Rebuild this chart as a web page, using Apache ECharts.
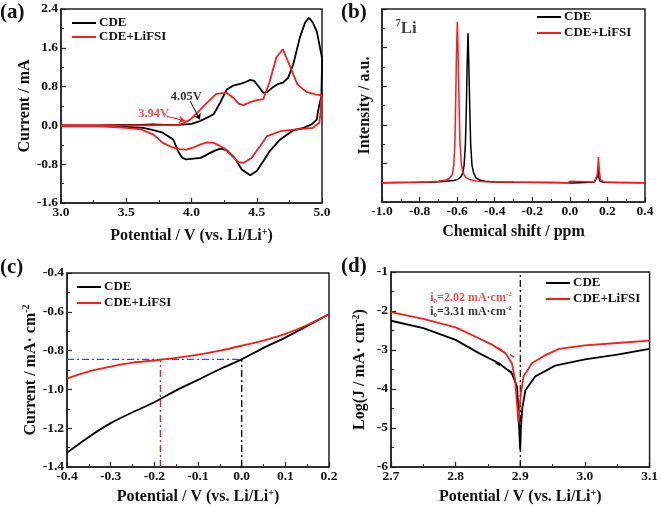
<!DOCTYPE html>
<html><head><meta charset="utf-8">
<script src="https://cdn.jsdelivr.net/npm/echarts@6/dist/echarts.min.js"></script>
<style>html,body{margin:0;padding:0;background:#fff}#c{width:661px;height:506px}</style>
</head><body><div id="c"></div>
<script>
// ---------- DATA ----------
// (a) cyclic voltammetry [V, mA]
const cvCdeAnodic = [[3.0,0.0],[3.3,0.0],[3.45,0.01],[3.6,0.01],[3.7,0.02],[3.8,0.01],[3.9,0.01],[4.0,0.03],[4.065,0.09],[4.12,0.16],[4.17,0.23],[4.22,0.47],[4.27,0.74],[4.32,0.82],[4.38,0.86],[4.42,0.9],[4.45,0.94],[4.48,0.92],[4.52,0.78],[4.55,0.67],[4.58,0.69],[4.62,0.78],[4.66,0.85],[4.7,0.88],[4.74,0.98],[4.78,1.26],[4.83,1.81],[4.87,2.12],[4.9,2.22],[4.93,2.12],[4.96,1.94],[4.99,1.53],[5.0,1.4]];
const cvCdeCathodic = [[5.0,1.2],[4.995,0.6],[4.98,0.42],[4.97,0.3],[4.96,0.12],[4.92,0.02],[4.86,-0.05],[4.78,-0.1],[4.68,-0.29],[4.6,-0.53],[4.55,-0.74],[4.5,-0.94],[4.45,-1.03],[4.385,-0.91],[4.33,-0.67],[4.27,-0.51],[4.22,-0.48],[4.17,-0.53],[4.07,-0.67],[3.96,-0.7],[3.93,-0.67],[3.9,-0.55],[3.86,-0.29],[3.78,-0.15],[3.7,-0.09],[3.63,-0.05],[3.5,-0.03],[3.3,-0.01],[3.0,-0.01]];
const cvLifsiAnodic = [[3.0,0.0],[3.4,0.0],[3.7,0.0],[3.9,0.01],[3.94,0.05],[3.99,0.12],[4.07,0.33],[4.12,0.47],[4.19,0.65],[4.27,0.67],[4.32,0.57],[4.36,0.45],[4.4,0.42],[4.45,0.48],[4.5,0.52],[4.55,0.54],[4.6,0.91],[4.65,1.4],[4.7,1.57],[4.755,1.22],[4.81,0.85],[4.88,0.69],[4.95,0.64],[4.995,0.62]];
const cvLifsiCathodic = [[4.998,0.6],[4.99,0.3],[4.98,0.06],[4.93,-0.05],[4.81,-0.08],[4.68,-0.12],[4.58,-0.22],[4.525,-0.43],[4.46,-0.67],[4.4,-0.77],[4.36,-0.76],[4.31,-0.63],[4.245,-0.46],[4.17,-0.36],[4.12,-0.35],[4.07,-0.39],[4.01,-0.46],[3.96,-0.5],[3.91,-0.49],[3.86,-0.46],[3.78,-0.36],[3.71,-0.19],[3.61,-0.08],[3.5,-0.05],[3.3,-0.02],[3.0,-0.02]];
const cvOnsetLabels = ['4.05V', '3.94V'];

// (b) 7Li NMR [ppm, intensity]
const nmrCde = [[-1.0,0],[-0.8,0.002],[-0.72,0.004],[-0.66,0.007],[-0.62,0.011],[-0.6,0.016],[-0.58,0.03],[-0.57,0.05],[-0.563,0.09],[-0.556,0.2],[-0.551,0.39],[-0.547,0.6],[-0.542,0.774],[-0.538,0.62],[-0.533,0.39],[-0.528,0.2],[-0.521,0.09],[-0.512,0.05],[-0.5,0.025],[-0.48,0.014],[-0.45,0.008],[-0.4,0.004],[-0.3,0.002],[-0.1,0.001],[-0.01,0],[0.0,0.004],[0.01,-0.002],[0.05,0],[0.13,0.003],[0.14,0.01],[0.146,0.03],[0.15,0.071],[0.154,0.03],[0.16,0.008],[0.18,0.002],[0.4,0]];
const nmrLifsi = [[-1.0,0],[-0.85,0.002],[-0.75,0.004],[-0.7,0.007],[-0.66,0.014],[-0.64,0.022],[-0.625,0.045],[-0.618,0.09],[-0.612,0.2],[-0.608,0.4],[-0.604,0.65],[-0.599,0.834],[-0.595,0.68],[-0.59,0.42],[-0.585,0.21],[-0.578,0.1],[-0.57,0.055],[-0.555,0.028],[-0.53,0.015],[-0.5,0.009],[-0.45,0.005],[-0.35,0.003],[-0.1,0.001],[-0.01,0],[-0.003,-0.006],[0.003,0.008],[0.01,0],[0.13,0.004],[0.14,0.012],[0.146,0.04],[0.152,0.133],[0.157,0.06],[0.163,0.015],[0.18,0.004],[0.25,0.001],[0.4,0]];

// (c) LSV [V, mA cm-2]
const lsvPotential = [-0.4,-0.35,-0.3,-0.25,-0.2,-0.15,-0.1,-0.05,0.0,0.05,0.1,0.15,0.2];
const lsvCde   = [-1.326,-1.245,-1.174,-1.118,-1.066,-1.005,-0.951,-0.896,-0.845,-0.786,-0.733,-0.673,-0.613];
const lsvLifsi = [-0.944,-0.907,-0.882,-0.862,-0.851,-0.838,-0.821,-0.8,-0.775,-0.748,-0.714,-0.668,-0.613];
const lsvRefCurrent = -0.845;
const lsvRefPotentials = [-0.186, 0.0];

// (d) Tafel [V, log J]
const tafelCde = [[2.7,-2.25],[2.75,-2.44],[2.8,-2.74],[2.836,-3.08],[2.867,-3.34],[2.887,-3.6],[2.895,-3.94],[2.897,-4.5],[2.899,-5.3],[2.9,-5.55],[2.901,-5.0],[2.903,-4.5],[2.908,-4.03],[2.923,-3.68],[2.954,-3.4],[3.0,-3.24],[3.05,-3.12],[3.1,-2.97]];
const tafelLifsi = [[2.7,-2.03],[2.75,-2.2],[2.8,-2.42],[2.836,-2.7],[2.857,-2.87],[2.877,-3.08],[2.887,-3.34],[2.892,-3.77],[2.895,-4.4],[2.897,-4.85],[2.899,-4.5],[2.901,-4.1],[2.905,-3.68],[2.918,-3.34],[2.939,-3.13],[2.96,-2.97],[3.0,-2.88],[3.05,-2.82],[3.1,-2.76]];
const tafelFitCde = [[2.862,-3.33],[2.897,-3.66]];
const tafelFitLifsi = [[2.865,-2.94],[2.898,-3.25]];
const tafelEcorr = 2.9;
const exchangeCurrents = ['2.02', '3.31'];

// ---------- STYLE ----------
const FF = '"Liberation Serif","Times New Roman",serif';
const RED = '#f51d1d', BLACK = '#000000', BLUE = '#2156f5';
const NAMES = ['CDE', 'CDE+LiFSI'];
const rich = (size, color) => ({
  sup: {fontFamily: FF, fontWeight: 'bold', fontSize: Math.round(size*0.6), color: color, verticalAlign: 'top', lineHeight: size+2},
  sub: {fontFamily: FF, fontWeight: 'bold', fontSize: Math.round(size*0.6), color: color, verticalAlign: 'bottom', lineHeight: size+2},
  n: {fontFamily: FF, fontWeight: 'bold', fontSize: size, color: color, lineHeight: size+2}
});
const nameStyle = {fontFamily: FF, fontWeight: 'bold', fontSize: 16, color: '#111', rich: rich(16, '#111')};
const labelStyle = (fmt) => ({fontFamily: FF, fontWeight: 'bold', fontSize: 13.5, color: '#111', margin: 3, formatter: fmt});
const f1 = v => (Math.abs(v) < 1e-9 ? 0 : v).toFixed(1);
const f0 = v => String(Math.round(v));

function xAx(gi, min, max, interval, fmt, name, gap) {
  return {type: 'value', gridIndex: gi, min: min, max: max, interval: interval,
    name: name, nameLocation: 'middle', nameGap: gap, nameTextStyle: nameStyle,
    axisLine: {show: true, onZero: false, lineStyle: {color: '#222', width: 1.5}},
    axisTick: {show: true, inside: true, length: 5, lineStyle: {color: '#222', width: 1.2}},
    minorTick: {show: true, splitNumber: 2, length: 3, lineStyle: {color: '#222', width: 1}},
    axisLabel: labelStyle(fmt), splitLine: {show: false}};
}
function yAx(gi, min, max, interval, fmt, name, gap, showLabels) {
  return {type: 'value', gridIndex: gi, min: min, max: max, interval: interval,
    name: name, nameLocation: 'middle', nameGap: gap, nameRotate: 90, nameTextStyle: nameStyle,
    axisLine: {show: true, onZero: false, lineStyle: {color: '#222', width: 1.5}},
    axisTick: {show: true, inside: true, length: 5, lineStyle: {color: '#222', width: 1.2}},
    minorTick: {show: true, splitNumber: 2, length: 3, lineStyle: {color: '#222', width: 1}},
    axisLabel: Object.assign(labelStyle(fmt), {show: showLabels !== false}), splitLine: {show: false}};
}
const grids = [
  {left: 61, top: 9, width: 261, height: 194},
  {left: 382, top: 9, width: 263, height: 193},
  {left: 67, top: 273, width: 262, height: 194},
  {left: 391, top: 272, width: 261, height: 195}
].map(g => Object.assign(g, {show: true, borderColor: '#222', borderWidth: 1.5, backgroundColor: 'transparent'}));

function line(name, xi, data, color, extra) {
  return Object.assign({name: name, type: 'line', xAxisIndex: xi, yAxisIndex: xi, data: data,
    symbol: 'none', smooth: false, lineStyle: {color: color, width: 1.8}, itemStyle: {color: color},
    animation: false, z: 3}, extra || {});
}
function helper(xi, data, color, type, w) {
  return {type: 'line', xAxisIndex: xi, yAxisIndex: xi, data: data, symbol: 'none', silent: true,
    lineStyle: {color: color, width: w || 1.4, type: type}, animation: false, z: 2};
}
function textMark(xi, coord, text, color, size, align) {
  return {type: 'scatter', xAxisIndex: xi, yAxisIndex: xi, data: [coord], symbolSize: 1, silent: true,
    itemStyle: {color: 'rgba(0,0,0,0)'}, animation: false,
    label: {show: true, position: align === 'left' ? 'right' : 'inside', formatter: text, distance: 0,
      fontFamily: FF, fontWeight: 'bold', fontSize: size, color: color, rich: rich(size, color)}};
}
function arrowMark(xi, from, to, color) {
  return {type: 'line', xAxisIndex: xi, yAxisIndex: xi, data: [], silent: true, animation: false,
    markLine: {silent: true, animation: false, symbol: ['none', 'arrow'], symbolSize: 6,
      label: {show: false}, lineStyle: {color: color, width: 1, type: 'solid'},
      data: [[{coord: from}, {coord: to}]]}};
}
const dashDot = [7, 3, 2, 3];

const legends = [
  {left: 72, top: 16, itemGap: 0},
  {left: 537, top: 10, itemGap: 2},
  {left: 77, top: 280, itemGap: 2},
  {left: 546, top: 276, itemGap: 2}
].map(l => Object.assign(l, {data: NAMES, orient: 'vertical', icon: 'rect', itemWidth: 24, itemHeight: 2, selectedMode: false,
  textStyle: {fontFamily: FF, fontWeight: 'bold', fontSize: 13, lineHeight: 14, color: '#111', padding: [0, 0, 0, -2]}, padding: 0}));

const titles = [['(a)', 0, 2], ['(b)', 341, 2], ['(c)', 0, 257], ['(d)', 341, 256]].map(t => ({
  text: t[0], left: t[1], top: t[2], padding: 0,
  textStyle: {fontFamily: FF, fontWeight: 'bold', fontSize: 21, color: '#111'}}));

const xname = 'Potential / V (vs. Li/Li{sup|+})';
const option = {
  backgroundColor: '#fff',
  animation: false,
  title: titles,
  legend: legends,
  grid: grids,
  xAxis: [
    xAx(0, 3.0, 5.0, 0.5, f1, xname, 24),
    xAx(1, -1.0, 0.4, 0.2, f1, 'Chemical shift / ppm', 22),
    xAx(2, -0.4, 0.2, 0.1, f1, xname, 21),
    xAx(3, 2.7, 3.1, 0.1, f1, xname, 21)
  ],
  yAxis: [
    yAx(0, -1.6, 2.4, 0.8, f1, 'Current / mA', 24),
    yAx(1, -0.1, 0.9, 0.2, f1, 'Intensity / a.u.', 9, false),
    yAx(2, -1.4, -0.4, 0.2, f1, 'Current / mA· cm{sup|-2}', 21),
    yAx(3, -6, -1, 1, f0, 'Log(J / mA· cm{sup|-2})', 22)
  ],
  series: [
    // (a)
    line(NAMES[0], 0, cvCdeAnodic.concat(cvCdeCathodic), BLACK),
    line(NAMES[1], 0, cvLifsiAnodic.concat(cvLifsiCathodic), RED),
    arrowMark(0, [3.99, 0.5], [4.065, 0.12], BLACK),
    arrowMark(0, [3.81, 0.19], [3.95, 0.09], RED),
    textMark(0, [3.96, 0.6], cvOnsetLabels[0], BLACK, 12.5),
    textMark(0, [3.71, 0.24], cvOnsetLabels[1], RED, 12.5),
    // (b)
    line(NAMES[0], 1, nmrCde, BLACK, {lineStyle: {color: BLACK, width: 1.5}}),
    line(NAMES[1], 1, nmrLifsi, RED, {lineStyle: {color: RED, width: 1.5}}),
    textMark(1, [-0.93, 0.8], '{sup|7}{n|Li}', '#111', 17, 'left'),
    // (c)
    line(NAMES[0], 2, lsvPotential.map((v, i) => [v, lsvCde[i]]), BLACK, {smooth: 0.3}),
    line(NAMES[1], 2, lsvPotential.map((v, i) => [v, lsvLifsi[i]]), RED, {smooth: 0.3}),
    helper(2, [[-0.4, lsvRefCurrent], [lsvRefPotentials[1], lsvRefCurrent]], BLUE, dashDot),
    helper(2, [[lsvRefPotentials[0], -1.4], [lsvRefPotentials[0], lsvRefCurrent]], RED, dashDot),
    helper(2, [[lsvRefPotentials[1], -1.4], [lsvRefPotentials[1], lsvRefCurrent]], BLACK, dashDot),
    // (d)
    line(NAMES[0], 3, tafelCde, BLACK),
    line(NAMES[1], 3, tafelLifsi, RED),
    helper(3, [[tafelEcorr, -6], [tafelEcorr, -1]], BLACK, dashDot, 1.2),
    helper(3, tafelFitCde, BLACK, [5, 9], 1.4),
    helper(3, tafelFitLifsi, RED, [5, 9], 1.4),
    textMark(3, [2.76, -1.67], '{n|i}{sub|0}{n|=' + exchangeCurrents[0] + ' mA·cm}{sup|-2}', RED, 12, 'left'),
    textMark(3, [2.76, -2.03], '{n|i}{sub|0}{n|=' + exchangeCurrents[1] + ' mA·cm}{sup|-2}', BLACK, 12, 'left')
  ]
};
const chart = echarts.init(document.getElementById('c'), null, {renderer: 'canvas'});
chart.setOption(option);
</script></body></html>
